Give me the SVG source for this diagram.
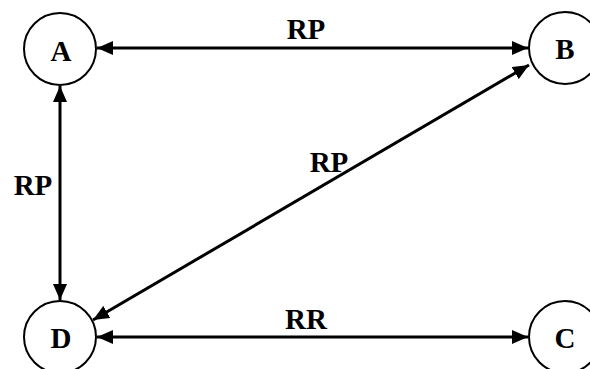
<svg xmlns="http://www.w3.org/2000/svg" width="590" height="369" viewBox="0 0 590 369">
<defs>
<marker id="ah" viewBox="0 0 16 14" refX="16" refY="7" markerWidth="16" markerHeight="14" markerUnits="userSpaceOnUse" orient="auto-start-reverse">
<path d="M0,0 L16,7 L0,14 Z" fill="#000"/>
</marker>
<style>
.n{fill:#fff;stroke:#000;stroke-width:2}
.t{font-family:"Liberation Serif","Times New Roman",serif;font-weight:bold;font-size:29px;fill:#000}
.e{stroke:#000;stroke-width:3;fill:none;marker-start:url(#ah);marker-end:url(#ah)}
</style>
</defs>
<g id="edges">
<line class="e" x1="97" y1="48" x2="528" y2="48"/>
<line class="e" x1="60" y1="86" x2="60" y2="300"/>
<line class="e" x1="529" y1="65" x2="93" y2="320"/>
<line class="e" x1="97" y1="337" x2="528" y2="337"/>
<text class="t" x="306" y="39" text-anchor="middle">RP</text>
<text class="t" x="33" y="195" text-anchor="middle">RP</text>
<text class="t" x="329" y="172" text-anchor="middle">RP</text>
<text class="t" x="306" y="329" text-anchor="middle">RR</text>
</g>
<g id="A"><circle class="n" cx="60" cy="49" r="36"/><text class="t" x="61" y="61" text-anchor="middle">A</text></g>
<g id="B"><circle class="n" cx="565" cy="48" r="36"/><text class="t" x="565" y="59" text-anchor="middle">B</text></g>
<g id="D"><circle class="n" cx="60" cy="337" r="36"/><text class="t" x="61" y="348" text-anchor="middle">D</text></g>
<g id="C"><circle class="n" cx="565" cy="337" r="36"/><text class="t" x="565" y="348" text-anchor="middle">C</text></g>
</svg>
